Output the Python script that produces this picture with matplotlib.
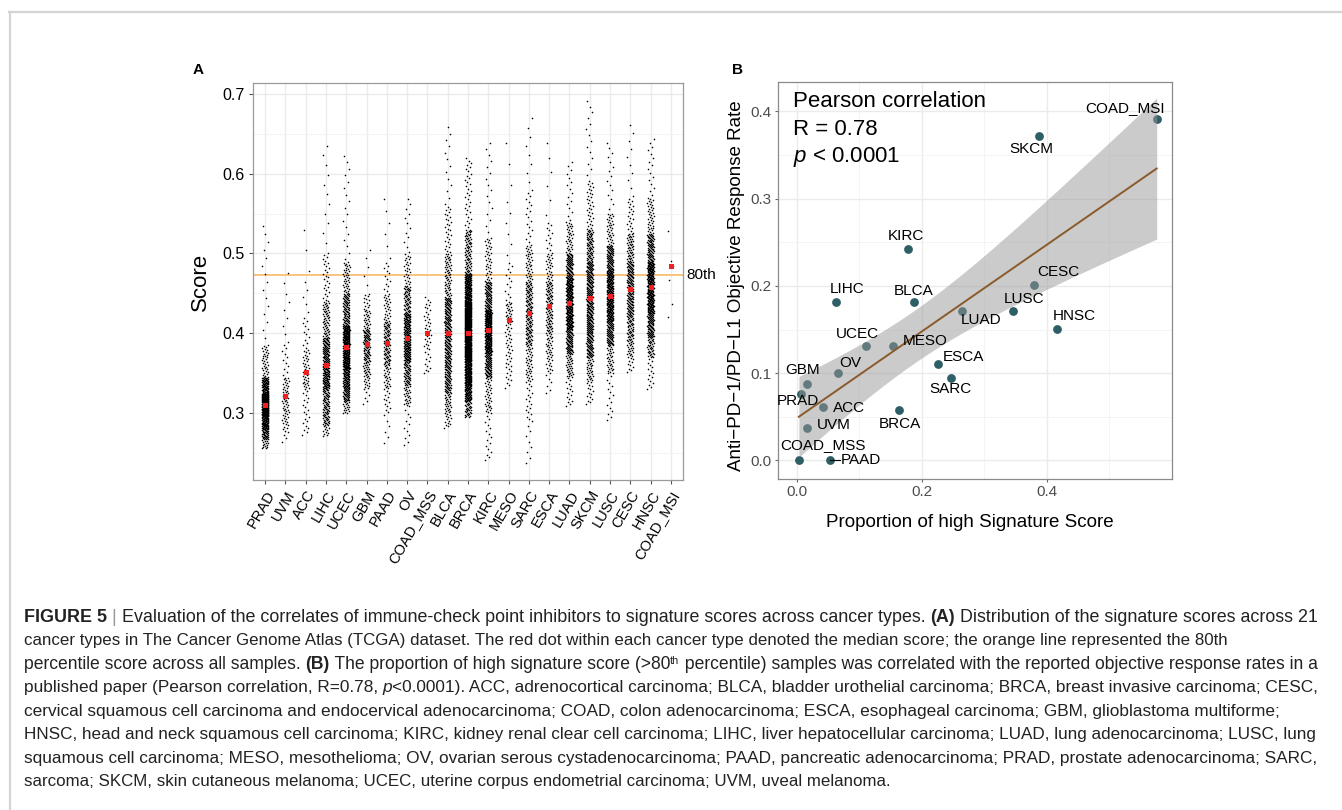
#!/usr/bin/env python3
"""
Figure 5: signature score distribution per cancer type (A) and its
correlation with anti-PD-1/PD-L1 response rates (B).
"""

import matplotlib
matplotlib.use("Agg")
import matplotlib.pyplot as plt
import numpy as np
from matplotlib.lines import Line2D
from matplotlib.transforms import blended_transform_factory

plt.rcParams['font.family'] = ['Liberation Sans', 'DejaVu Sans']
plt.rcParams['mathtext.fontset'] = 'custom'
plt.rcParams['mathtext.rm'] = 'Liberation Sans'
plt.rcParams['mathtext.it'] = 'Liberation Sans:italic'
plt.rcParams['mathtext.bf'] = 'Liberation Sans:bold'

# ---------------- Panel A data ----------------
cancer_types = ["PRAD", "UVM", "ACC", "LIHC", "UCEC", "GBM", "PAAD", "OV",
                "COAD_MSS", "BLCA", "BRCA", "KIRC", "MESO", "SARC", "ESCA",
                "LUAD", "SKCM", "LUSC", "CESC", "HNSC", "COAD_MSI"]
sample_counts = [498, 80, 79, 371, 545, 166, 179, 379, 45, 408, 1100, 533,
                 87, 263, 184, 517, 472, 501, 306, 522, 6]
# per-type score quantiles estimated from the point clouds
quantile_levels = [0.0, 0.03, 0.10, 0.25, 0.5, 0.75, 0.90, 0.97, 1.0]
score_min = [0.256, 0.264, 0.273, 0.271, 0.300, 0.311, 0.263, 0.260, 0.351,
             0.282, 0.295, 0.241, 0.332, 0.238, 0.325, 0.309, 0.312, 0.291,
             0.352, 0.330, 0.421]
score_q03 = [0.268, 0.275, 0.280, 0.285, 0.315, 0.330, 0.300, 0.310, 0.353,
             0.300, 0.315, 0.300, 0.340, 0.290, 0.350, 0.345, 0.340, 0.350,
             0.370, 0.370, 0.425]
score_q10 = [0.280, 0.285, 0.295, 0.300, 0.330, 0.345, 0.330, 0.335, 0.360,
             0.325, 0.335, 0.345, 0.355, 0.340, 0.370, 0.375, 0.370, 0.385,
             0.390, 0.395, 0.430]
score_q25 = [0.296, 0.300, 0.330, 0.330, 0.355, 0.365, 0.360, 0.365, 0.380,
             0.355, 0.365, 0.375, 0.380, 0.385, 0.400, 0.405, 0.400, 0.415,
             0.420, 0.425, 0.440]
score_median = [0.310, 0.322, 0.352, 0.360, 0.383, 0.387, 0.388, 0.394,
                0.400, 0.401, 0.401, 0.404, 0.417, 0.425, 0.434, 0.4375,
                0.444, 0.447, 0.456, 0.458, 0.484]
score_q75 = [0.325, 0.345, 0.380, 0.395, 0.410, 0.405, 0.415, 0.425, 0.420,
             0.445, 0.440, 0.430, 0.440, 0.465, 0.465, 0.470, 0.490, 0.480,
             0.490, 0.490, 0.486]
score_q90 = [0.345, 0.390, 0.420, 0.440, 0.450, 0.430, 0.450, 0.460, 0.435,
             0.500, 0.475, 0.465, 0.490, 0.510, 0.500, 0.500, 0.530, 0.510,
             0.525, 0.525, 0.500]
score_q97 = [0.385, 0.445, 0.470, 0.500, 0.490, 0.450, 0.490, 0.500, 0.440,
             0.560, 0.530, 0.520, 0.570, 0.580, 0.540, 0.540, 0.590, 0.550,
             0.570, 0.570, 0.525]
score_max = [0.535, 0.476, 0.530, 0.635, 0.622, 0.505, 0.568, 0.568, 0.446,
             0.658, 0.619, 0.638, 0.638, 0.669, 0.638, 0.614, 0.691, 0.638,
             0.661, 0.643, 0.528]
percentile_80 = 0.473

# ---------------- Panel B data ----------------
orr_types = ["COAD_MSI", "SKCM", "KIRC", "CESC", "LIHC", "BLCA", "LUSC",
             "LUAD", "HNSC", "UCEC", "MESO", "ESCA", "OV", "SARC", "GBM",
             "PRAD", "ACC", "BRCA", "UVM", "COAD_MSS", "PAAD"]
high_score_prop = [0.576, 0.387, 0.177, 0.379, 0.062, 0.1875, 0.3456, 0.264,
                   0.416, 0.110, 0.153, 0.2265, 0.065, 0.246, 0.016, 0.007,
                   0.041, 0.1635, 0.0165, 0.003, 0.053]
response_rate = [0.3916, 0.372, 0.242, 0.2014, 0.1815, 0.1815, 0.1712,
                 0.1716, 0.151, 0.1315, 0.1315, 0.1108, 0.1002, 0.0944,
                 0.0879, 0.0761, 0.0615, 0.0581, 0.0371, 0.0, 0.0]

# label placement offsets (data units), mimicking ggrepel output
label_offsets = {
    "COAD_MSI": (-0.051, 0.012), "SKCM": (-0.011, -0.015),
    "KIRC": (-0.003, 0.015), "CESC": (0.040, 0.015),
    "LIHC": (0.019, 0.015), "BLCA": (0.0, 0.013),
    "LUSC": (0.018, 0.014), "LUAD": (0.030, -0.011),
    "HNSC": (0.028, 0.015), "UCEC": (-0.013, 0.013),
    "MESO": (0.053, 0.005), "ESCA": (0.040, 0.008),
    "OV": (0.020, 0.011), "SARC": (0.0, -0.013),
    "GBM": (-0.007, 0.016), "PRAD": (-0.005, -0.0085),
    "ACC": (0.042, -0.002), "BRCA": (0.0015, -0.016),
    "UVM": (0.042, 0.003), "COAD_MSS": (0.038, 0.018),
    "PAAD": (0.050, 0.0),
}

W, H = 1342, 810


def px_box(left, top, right, bottom):
    return [left / W, 1 - bottom / H, (right - left) / W, (bottom - top) / H]


fig = plt.figure(figsize=(W / 100, H / 100), dpi=100)
fig.patch.set_facecolor('white')

# light frame along top and left of the page
fig.add_artist(Line2D([9 / W, 1], [1 - 12 / H, 1 - 12 / H],
                      color='#d4d4d4', lw=1.6))
fig.add_artist(Line2D([10 / W, 10 / W], [0, 1 - 12 / H],
                      color='#d4d4d4', lw=1.6))

# ---------------- Panel A ----------------
axA = fig.add_axes(px_box(253, 83, 683, 480))
for i, name in enumerate(cancer_types):
    pos = i + 1
    n = sample_counts[i]
    qs = [score_min[i], score_q03[i], score_q10[i], score_q25[i],
          score_median[i], score_q75[i], score_q90[i], score_q97[i],
          score_max[i]]
    ys = np.interp(np.linspace(0, 1, n), quantile_levels, qs)
    jitter = ((np.arange(n) * 0.6180339887) % 1 - 0.5) * 0.32
    axA.plot(pos + jitter, ys, 'o', ms=1.15, mew=0, color='black', zorder=3)
    axA.plot(pos, score_median[i], 's', ms=3.6, mew=0, color='#f02020',
             zorder=4)

axA.axhline(percentile_80, color='#f7c47c', lw=1.4, zorder=2)
axA.text(1.008, percentile_80, "80th", fontsize=11, va='center', ha='left',
         transform=blended_transform_factory(axA.transAxes, axA.transData),
         clip_on=False)

axA.set_xlim(0.4, 21.6)
axA.set_ylim(0.2165, 0.7134)
axA.set_xticks(range(1, len(cancer_types) + 1))
axA.set_xticklabels(cancer_types, rotation=60, ha='right',
                    rotation_mode='anchor', fontsize=10.5)
axA.set_yticks([0.3, 0.4, 0.5, 0.6, 0.7])
axA.set_yticklabels(["0.3", "0.4", "0.5", "0.6", "0.7"], fontsize=11.5)
axA.set_yticks([0.25, 0.35, 0.45, 0.55, 0.65], minor=True)
axA.grid(True, which='major', color='#ebebeb', lw=1.0, zorder=0)
axA.grid(True, which='minor', axis='y', color='#f3f3f3', lw=0.7, zorder=0)
axA.set_axisbelow(True)
for sp in axA.spines.values():
    sp.set_color('#9a9a9a')
    sp.set_linewidth(0.9)
axA.tick_params(which='major', length=3, color='#555555', pad=3)
axA.tick_params(which='minor', length=0)
axA.set_ylabel("Score", fontsize=16)
axA.yaxis.set_label_coords(-0.097, 0.5)

fig.text(198 / W, 1 - 70 / H, "A", fontsize=11, fontweight='bold',
         ha='center', va='center')

# ---------------- Panel B ----------------
axB = fig.add_axes(px_box(778, 82, 1172, 479))
x = np.array(high_score_prop)
y = np.array(response_rate)
axB.scatter(x, y, s=40, color='#2e5e66', lw=0, zorder=3)

# linear fit with 95% confidence band (as geom_smooth(method='lm'))
n = len(x)
slope, intercept = np.polyfit(x, y, 1)
resid = y - (intercept + slope * x)
s_err = np.sqrt(np.sum(resid ** 2) / (n - 2))
sxx = np.sum((x - x.mean()) ** 2)
xf = np.linspace(x.min(), x.max(), 100)
yf = intercept + slope * xf
se = s_err * np.sqrt(1 / n + (xf - x.mean()) ** 2 / sxx)
t_crit = 2.093
axB.fill_between(xf, yf - t_crit * se, yf + t_crit * se, color='#999999',
                 alpha=0.5, lw=0, zorder=4)
axB.plot(xf, yf, color='#8b5a2b', lw=1.4, zorder=5)

for name, px, py in zip(orr_types, x, y):
    dx, dy = label_offsets[name]
    axB.text(px + dx, py + dy, name, fontsize=11, ha='center', va='center',
             zorder=6)
    if name == "PAAD":
        axB.plot([px, px + dx * 0.32], [py, py], color='black', lw=0.8,
                 zorder=6)

axB.text(0.037, 0.938, "Pearson correlation", fontsize=16,
         transform=axB.transAxes, va='baseline', ha='left')
axB.text(0.037, 0.867, "R = 0.78", fontsize=16,
         transform=axB.transAxes, va='baseline', ha='left')
axB.text(0.037, 0.799, "$p$ < 0.0001", fontsize=16,
         transform=axB.transAxes, va='baseline', ha='left')

axB.set_xlim(-0.0304, 0.6005)
axB.set_ylim(-0.0213, 0.4337)
axB.set_xticks([0.0, 0.2, 0.4])
axB.set_xticklabels(["0.0", "0.2", "0.4"])
axB.set_xticks([0.1, 0.3, 0.5], minor=True)
axB.set_yticks([0.0, 0.1, 0.2, 0.3, 0.4])
axB.set_yticklabels(["0.0", "0.1", "0.2", "0.3", "0.4"])
axB.set_yticks([0.05, 0.15, 0.25, 0.35], minor=True)
axB.grid(True, which='major', color='#ebebeb', lw=1.0, zorder=0)
axB.grid(True, which='minor', color='#f4f4f4', lw=0.7, zorder=0)
axB.set_axisbelow(True)
for sp in axB.spines.values():
    sp.set_color('#8a8a8a')
    sp.set_linewidth(0.9)
axB.tick_params(which='major', length=2.5, color='#666666', pad=2,
                labelsize=11, labelcolor='#4d4d4d')
axB.tick_params(which='minor', length=0)
axB.set_xlabel("Proportion of high Signature Score", fontsize=13.5)
axB.xaxis.set_label_coords(0.486, -0.088)
axB.set_ylabel("Anti\u2212PD\u22121/PD\u2212L1 Objective Response Rate",
               fontsize=13.5)
axB.yaxis.set_label_coords(-0.083, 0.487)

fig.text(737 / W, 1 - 70 / H, "B", fontsize=11, fontweight='bold',
         ha='center', va='center')

# ---------------- Caption ----------------
renderer = fig.canvas.get_renderer()
cap_size = 12.5


def style_kw(style, size):
    kw = dict(fontsize=size, color='#222222')
    if style == 'b':
        kw['fontweight'] = 'bold'
    elif style == 'i':
        kw['fontstyle'] = 'italic'
    elif style == 'g':
        kw['color'] = '#999999'
    elif style == 'sup':
        kw['fontsize'] = size * 0.62
    return kw


def advance(s, **kw):
    t1 = fig.text(0, 0, s + '|', **kw)
    w1 = t1.get_window_extent(renderer).width
    t1.remove()
    t2 = fig.text(0, 0, '|', **kw)
    w2 = t2.get_window_extent(renderer).width
    t2.remove()
    return w1 - w2


def draw_runs(x_px, base_px, runs, end_px):
    # pick the size so that the line ends where it does in the figure
    natural = sum(advance(t, **style_kw(s, cap_size)) for t, s in runs)
    size = cap_size * (end_px - x_px) / natural
    for txt, style in runs:
        kw = style_kw(style, size)
        dy = 5 if style == 'sup' else 0
        fig.text(x_px / W, 1 - (base_px - dy) / H, txt, va='baseline',
                 ha='left', **kw)
        x_px += advance(txt, **kw)


caption = [
    [("FIGURE 5", 'b'), (" | ", 'g'),
     ("Evaluation of the correlates of immune-check point inhibitors to "
      "signature scores across cancer types. ", ''), ("(A)", 'b'),
     (" Distribution of the signature scores across 21", '')],
    [("cancer types in The Cancer Genome Atlas (TCGA) dataset. The red dot "
      "within each cancer type denoted the median score; the orange line "
      "represented the 80th", '')],
    [("percentile score across all samples. ", ''), ("(B)", 'b'),
     (" The proportion of high signature score (>80", ''), ("th", 'sup'),
     (" percentile) samples was correlated with the reported objective "
      "response rates in a", '')],
    [("published paper (Pearson correlation, R=0.78, ", ''), ("p", 'i'),
     ("<0.0001). ACC, adrenocortical carcinoma; BLCA, bladder urothelial "
      "carcinoma; BRCA, breast invasive carcinoma; CESC,", '')],
    [("cervical squamous cell carcinoma and endocervical adenocarcinoma; "
      "COAD, colon adenocarcinoma; ESCA, esophageal carcinoma; GBM, "
      "glioblastoma multiforme;", '')],
    [("HNSC, head and neck squamous cell carcinoma; KIRC, kidney renal clear "
      "cell carcinoma; LIHC, liver hepatocellular carcinoma; LUAD, lung "
      "adenocarcinoma; LUSC, lung", '')],
    [("squamous cell carcinoma; MESO, mesothelioma; OV, ovarian serous "
      "cystadenocarcinoma; PAAD, pancreatic adenocarcinoma; PRAD, prostate "
      "adenocarcinoma; SARC,", '')],
    [("sarcoma; SKCM, skin cutaneous melanoma; UCEC, uterine corpus "
      "endometrial carcinoma; UVM, uveal melanoma.", '')],
]
line_ends = [1320, 1227, 1324, 1320, 1278, 1320, 1319, 892]
for k, runs in enumerate(caption):
    draw_runs(24, 622 + k * 23.43, runs, line_ends[k])

fig.savefig("out.png", dpi=100)
